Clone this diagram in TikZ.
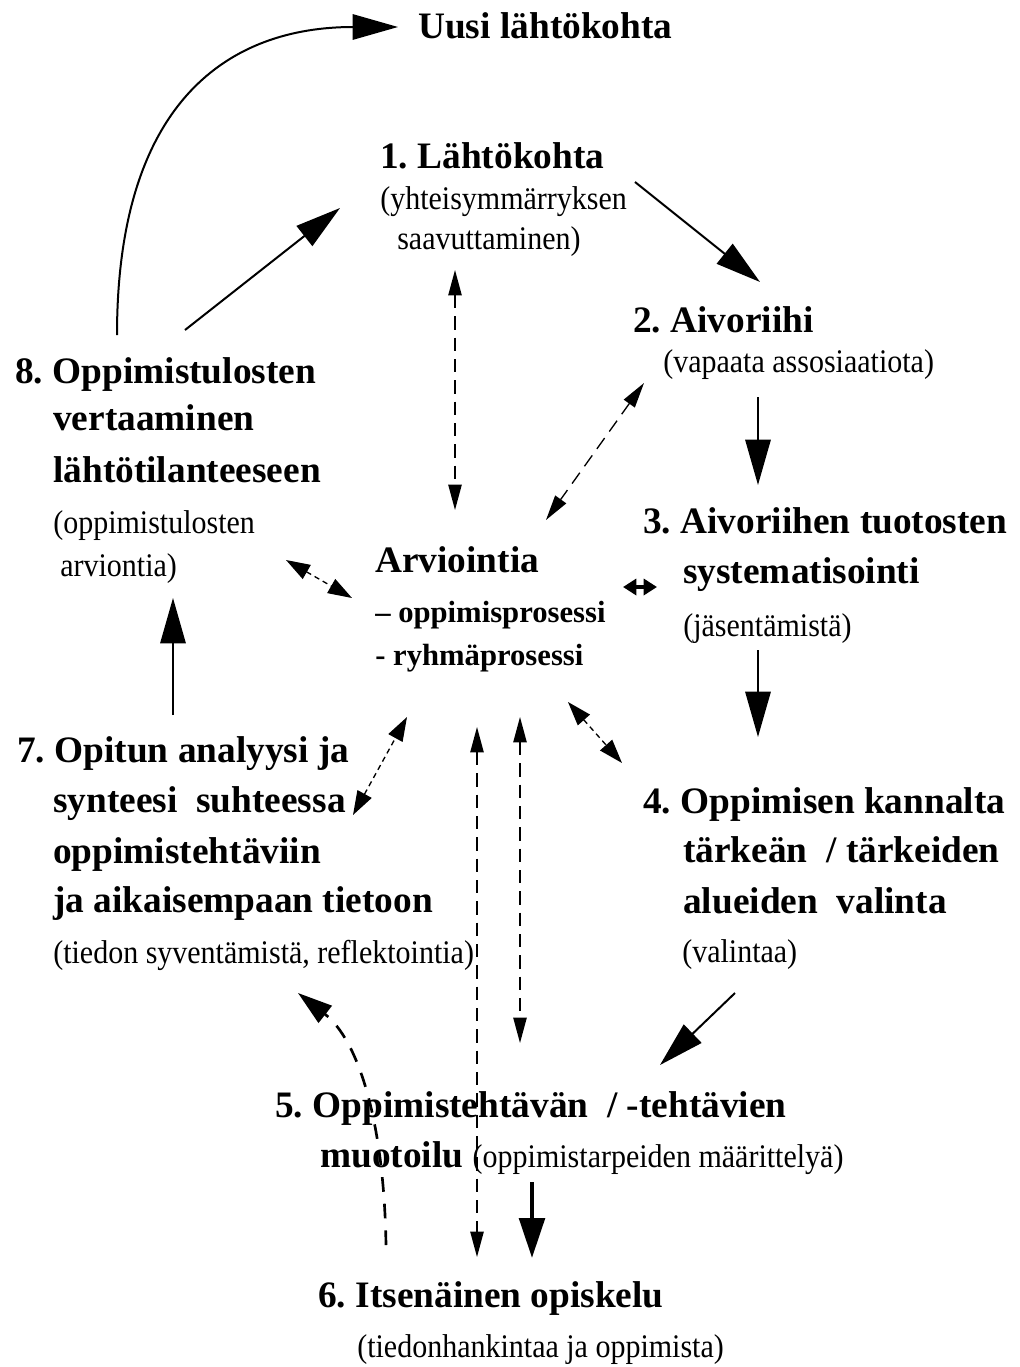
\documentclass[tikz,border=0pt]{standalone}
\usepackage{fontspec}
\setmainfont{Liberation Serif}
\usetikzlibrary{arrows.meta}
\newcommand{\tallpar}[1]{\scalebox{1}[1.1]{#1}}
\begin{document}
\frenchspacing
\begin{tikzpicture}[x=0.75pt,y=-0.75pt,
  bt/.style={font=\fontsize{28}{34}\selectfont\bfseries, anchor=base west, inner sep=0pt},
  st/.style={font=\fontsize{23}{28}\selectfont\bfseries, anchor=base west, inner sep=0pt},
  pt/.style={font=\fontsize{22.5}{27}\selectfont, anchor=base west, inner sep=0pt},
  sarrow/.style={line width=1.5pt, -{Triangle[length=34pt,width=19pt]}},
  barrow/.style={line width=3.5pt, -{Triangle[length=30pt,width=19pt]}},
  darrow/.style={line width=1pt, dash pattern=on 10pt off 6pt, {Triangle[length=19pt,width=10pt]}-{Triangle[length=19pt,width=10pt]}},
  ddarrow/.style={line width=1pt, dash pattern=on 4pt off 3pt, {Triangle[length=18pt,width=12pt]}-{Triangle[length=18pt,width=12pt]}},
  carrow/.style={line width=2pt, dash pattern=on 11pt off 9pt, -{Triangle[length=26pt,width=16pt]}},
  bowarrow/.style={line width=2.5pt, {Triangle[length=10pt,width=12pt]}-{Triangle[length=10pt,width=12pt]}},
]
\useasboundingbox (0,0) rectangle (1020,1367);

% texts
\node[bt] (new) at (418,38) {Uusi lähtökohta};
\node[bt] (t1a) at (380,168) {1. Lähtökohta};
\node[pt] (t1b) at (380,209) {\tallpar{(yhteisymmärryksen}};
\node[pt] (t1c) at (397,249) {\tallpar{saavuttaminen)}};
\node[bt] (t2a) at (633,332) {2. Aivoriihi};
\node[pt] (t2b) at (663,372) {\tallpar{(vapaata assosiaatiota)}};
\node[bt] (t3a) at (643,533) {3. Aivoriihen tuotosten};
\node[bt] (t3b) at (683,583) {systematisointi};
\node[pt] (t3c) at (683,636) {\tallpar{(jäsentämistä)}};
\node[bt] (t4a) at (643,813) {4. Oppimisen kannalta};
\node[bt] (t4b) at (683,862) {tärkeän \ / tärkeiden};
\node[bt] (t4c) at (683,913) {alueiden \ valinta};
\node[pt] (t4d) at (682,962) {\tallpar{(valintaa)}};
\node[bt] (t5a) at (275,1117) {5. Oppimistehtävän \ / -tehtävien};
\node[bt] (t5b) at (320,1167) {muotoilu {\mdseries\fontsize{22.5}{27}\selectfont\tallpar{(oppimistarpeiden määrittelyä)}}};
\node[bt] (t6a) at (318,1307) {6. Itsenäinen opiskelu};
\node[pt] (t6b) at (357,1357) {\tallpar{(tiedonhankintaa ja oppimista)}};
\node[bt] (t7a) at (17,762) {7. Opitun analyysi ja};
\node[bt] (t7b) at (53,812) {synteesi \ suhteessa};
\node[bt] (t7c) at (53,863) {oppimistehtäviin};
\node[bt] (t7d) at (53,912) {ja aikaisempaan tietoon};
\node[pt] (t7e) at (53,963) {\tallpar{(tiedon syventämistä, reflektointia)}};
\node[bt] (t8a) at (15,383) {8. Oppimistulosten};
\node[bt] (t8b) at (53,430) {vertaaminen};
\node[bt] (t8c) at (53,482) {lähtötilanteeseen};
\node[pt] (t8d) at (53,533) {\tallpar{(oppimistulosten}};
\node[pt] (t8e) at (60,576) {\tallpar{arviontia)}};
\node[bt] (ta) at (375,572) {Arviointia};
\node[st] (tb) at (375,622) {– oppimisprosessi};
\node[st] (tc) at (375,665) {- ryhmäprosessi};

% connector end points
\coordinate (cUs) at (117,335);
\coordinate (cUe) at (398,27);
\coordinate (c81s) at (185,330);
\coordinate (c81e) at (340,208);
\coordinate (c12s) at (635,182);
\coordinate (c12e) at (760,282);
\coordinate (c1As) at (455,270);
\coordinate (c1Ae) at (455,510);
\coordinate (c2As) at (644,383);
\coordinate (c2Ae) at (546,520);
\coordinate (c23s) at (758,397);
\coordinate (c23e) at (758,485);
\coordinate (c3As) at (623,587);
\coordinate (c3Ae) at (657,587);
\coordinate (c34s) at (758,650);
\coordinate (c34e) at (758,737);
\coordinate (c4As) at (568,702);
\coordinate (c4Ae) at (622,763);
\coordinate (c8As) at (286,560);
\coordinate (c8Ae) at (352,598);
\coordinate (c78s) at (173,715);
\coordinate (c78e) at (173,598);
\coordinate (c7As) at (353,815);
\coordinate (c7Ae) at (407,717);
\coordinate (cLs) at (477,727);
\coordinate (cLe) at (477,1257);
\coordinate (cRs) at (520,717);
\coordinate (cRe) at (520,1043);
\coordinate (c45s) at (735,993);
\coordinate (c45e) at (660,1065);
\coordinate (c67s) at (386,1245);
\coordinate (c67e) at (298,993);
\coordinate (c56s) at (532,1182);
\coordinate (c56e) at (532,1258);

% connectors
\draw[sarrow] (cUs) .. controls (117,100) and (230,27) .. (cUe);
\draw[sarrow] (c81s) -- (c81e);
\draw[sarrow] (c12s) -- (c12e);
\draw[darrow] (c1As) -- (c1Ae);
\draw[darrow] (c2As) -- (c2Ae);
\draw[sarrow] (c23s) -- (c23e);
\draw[bowarrow] (c3As) -- (c3Ae);
\draw[sarrow] (c34s) -- (c34e);
\draw[ddarrow] (c4As) -- (c4Ae);
\draw[ddarrow] (c8As) -- (c8Ae);
\draw[sarrow] (c78s) -- (c78e);
\draw[ddarrow] (c7As) -- (c7Ae);
\draw[darrow] (cLs) -- (cLe);
\draw[darrow] (cRs) -- (cRe);
\draw[sarrow] (c45s) -- (c45e);
\draw[carrow] (c67s) .. controls (384,1120) and (358,1040) .. (c67e);
\draw[barrow] (c56s) -- (c56e);
\end{tikzpicture}
\end{document}
